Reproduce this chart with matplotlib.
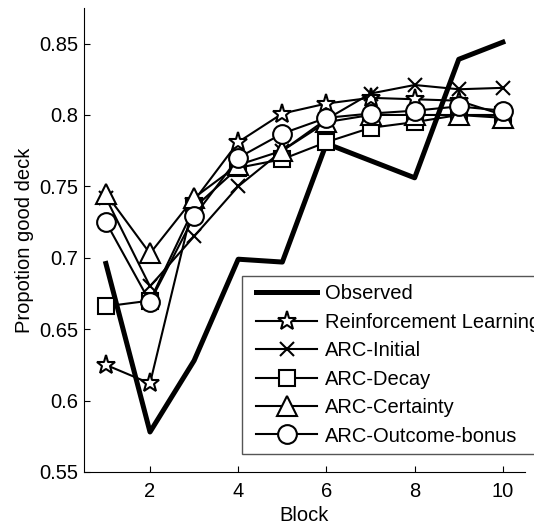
import matplotlib.pyplot as plt
from matplotlib.lines import Line2D
from matplotlib.legend_handler import HandlerLine2D
import numpy as np

plt.rcParams['font.family'] = ['Liberation Sans', 'DejaVu Sans']

blocks = np.arange(1, 11)
observed = [0.696, 0.578, 0.628, 0.699, 0.697, 0.780, 0.768, 0.756, 0.839, 0.851]
reinforcement = [0.625, 0.612, 0.740, 0.781, 0.801, 0.808, 0.812, 0.811, 0.810, 0.800]
arc_initial = [0.742, 0.680, 0.715, 0.750, 0.775, 0.797, 0.815, 0.821, 0.818, 0.819]
arc_decay = [0.666, 0.670, 0.735, 0.763, 0.769, 0.781, 0.791, 0.795, 0.800, 0.800]
arc_certainty = [0.745, 0.703, 0.742, 0.765, 0.775, 0.795, 0.800, 0.800, 0.800, 0.798]
arc_outcome = [0.725, 0.669, 0.729, 0.770, 0.787, 0.798, 0.801, 0.803, 0.806, 0.803]

fig = plt.figure(figsize=(5.34, 5.25), dpi=100)
ax = fig.add_axes([0.157, 0.101, 0.826, 0.884])

ax.plot(blocks, observed, color='black', linewidth=3.6, label='Observed')
kw = dict(color='black', linewidth=1.5, markerfacecolor='white', markeredgecolor='black',
          markeredgewidth=1.5)
ax.plot(blocks, reinforcement, marker='*', markersize=14, label='Reinforcement Learning', **kw)
ax.plot(blocks, arc_initial, marker='x', markersize=10, label='ARC-Initial', **kw)
ax.plot(blocks, arc_decay, marker='s', markersize=11.5, label='ARC-Decay', **kw)
ax.plot(blocks, arc_certainty, marker='^', markersize=14, label='ARC-Certainty', **kw)
ax.plot(blocks, arc_outcome, marker='o', markersize=13.5, label='ARC-Outcome-bonus', **kw)

ax.set_xlim(0.5, 10.5)
ax.set_ylim(0.55, 0.875)
ax.set_xticks([2, 4, 6, 8, 10])
ax.set_yticks([0.55, 0.6, 0.65, 0.7, 0.75, 0.8, 0.85])
ax.set_yticklabels(['0.55', '0.6', '0.65', '0.7', '0.75', '0.8', '0.85'])
ax.tick_params(direction='in', length=4, labelsize=14.5, pad=4)
ax.tick_params(axis='x', pad=7)
ax.spines['top'].set_visible(False)
ax.spines['right'].set_visible(False)
ax.set_xlabel('Block', fontsize=14.5, labelpad=4)
ax.set_ylabel('Propotion good deck', fontsize=14.5, labelpad=4)

leg = ax.legend(loc='upper left', bbox_to_anchor=(0.358, 0.422), borderaxespad=0,
                fontsize=14.5, handlelength=3.35, handletextpad=0.4, fancybox=False,
                framealpha=1, edgecolor='#555555', labelspacing=0.47, borderpad=0.4,
                handler_map={Line2D: HandlerLine2D(xpad=0.33)})
leg.get_frame().set_linewidth(1.0)

fig.savefig('out.png', dpi=100)
